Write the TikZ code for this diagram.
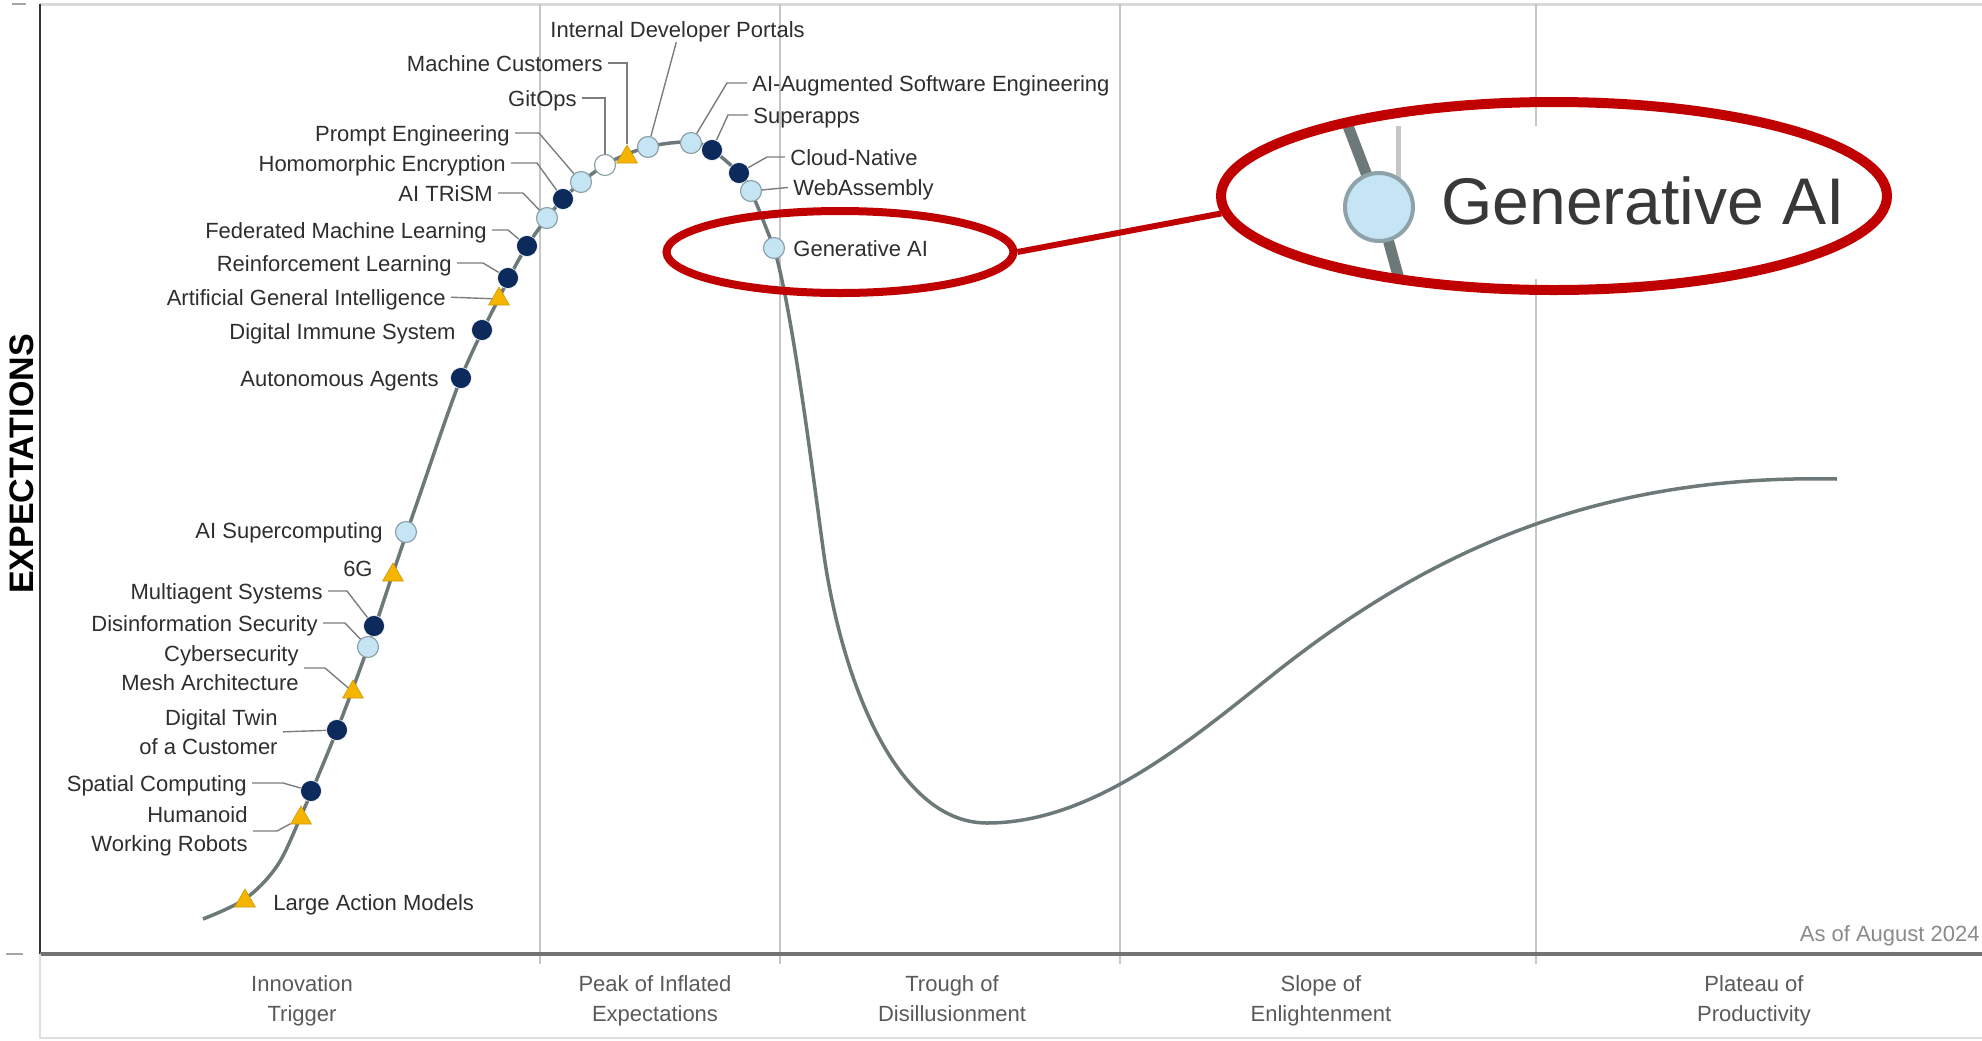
\documentclass[tikz,border=0pt]{standalone}
\usepackage{fontspec}
\setmainfont{Liberation Sans}
\usetikzlibrary{shapes.geometric}

\definecolor{navy}{HTML}{0C2A5B}
\definecolor{ltblue}{HTML}{C6E5F4}
\definecolor{dotedge}{HTML}{8EA2AA}
\definecolor{gold}{HTML}{F4B400}
\definecolor{curvegray}{HTML}{6C7978}
\definecolor{gridgray}{HTML}{C6C6C6}
\definecolor{leadgray}{HTML}{7D7D7D}
\definecolor{labeltext}{HTML}{2E2E2E}
\definecolor{phasetext}{HTML}{5A5A5A}
\definecolor{notegray}{HTML}{8A8A8A}
\definecolor{hilite}{HTML}{C00000}

\tikzset{
  hypecurve/.style={draw=curvegray, line width=1.75pt},
  dkdot/.style={circle, fill=navy, draw=white, line width=.3pt, minimum size=10.5pt, inner sep=0},
  ltdot/.style={circle, fill=ltblue, draw=dotedge, line width=.6pt, minimum size=10.5pt, inner sep=0},
  wtdot/.style={circle, fill=white, draw=dotedge, line width=.6pt, minimum size=10.5pt, inner sep=0},
  tri/.style={regular polygon, regular polygon sides=3, fill=gold, draw=gold!85!black, line width=.3pt, minimum size=12pt, inner sep=0},
  lbl/.style={font=\fontsize{11}{14.5}\selectfont, text=labeltext, inner sep=0},
  lbl1/.style={lbl, text height=8pt, text depth=0pt},
  lead/.style={draw=leadgray, line width=.7pt, shorten <=2.5pt},
  phase/.style={font=\fontsize{11}{15}\selectfont, text=phasetext, align=center, inner sep=0, anchor=north},
  ring/.style={ellipse, draw=hilite, inner sep=0},
}

\begin{document}
\begin{tikzpicture}[x=0.5pt, y=-0.5pt]
	\useasboundingbox (0,0) rectangle (1982,1040);
	% frame and phase lines
		\draw[gray!30, line width=1.5pt] (40,4) -- (1982,4);
		\foreach \x in {540,780,1120,1536}{
			\draw[gridgray, line width=1pt] (\x,4) -- (\x,964);
			}
		\draw[black!80, line width=1pt] (40,4) -- (40,954);
		\draw[black!55, line width=2pt] (40,954) -- (1982,954);
		\draw[gray!25, line width=1pt] (40,954) -- (40,1038) -- (1982,1038);
		\draw[gray!70, line width=1pt] (6,954) -- (23,954);
		\draw[gray!70, line width=1pt] (12,4) -- (26,4);
	% axis texts
		\node[rotate=90, inner sep=0, font=\fontsize{17}{17}\selectfont\bfseries] (ylab) at (22,464) {EXPECTATIONS};
		\foreach \n/\x/\t in {it/302/Innovation\\Trigger, pk/655/Peak of Inflated\\Expectations,
			tr/952/Trough of\\Disillusionment, sl/1321/Slope of\\Enlightenment, pl/1754/Plateau of\\Productivity}{
			\node[phase] (ph\n) at (\x,975) {\t};
			}
		\node[anchor=east, inner sep=0, text=notegray, font=\fontsize{11}{11}\selectfont] (asof) at (1980,936) {As of August 2024};
	% hype curve
		\draw[hypecurve] plot[smooth, tension=.55] coordinates {(203,919) (245,899) (277,866) (301,816)
			(337,730) (368,647) (393,573) (418,500) (461,378) (499,298) (527,246) (563,199) (605,165)
			(648,147) (690,142) (712,150) (739,173) (751,191) (774,248)}
			.. controls (792,308) and (812,468) .. (823,548)
			.. controls (839,668) and (892,823) .. (987,823)
			.. controls (1090,823) and (1185,745) .. (1270,677)
			.. controls (1430,549) and (1600,474) .. (1837,479);
	% markers
		\foreach \n/\s/\x/\y in {LAM/tri/245/901, HWR/tri/301/818, SC/dkdot/311/791, DT/dkdot/337/730,
			CMA/tri/353/692, DS/ltdot/368/647, MS/dkdot/374/626, G6/tri/393/575, AIS/ltdot/406/532,
			AA/dkdot/461/378, DIS/dkdot/482/330, AGI/tri/499/299, RL/dkdot/508/278, FML/dkdot/527/246,
			TRI/ltdot/547/218, HE/dkdot/563/199, PE/ltdot/581/182, GIT/wtdot/605/165, MC/tri/627/157,
			IDP/ltdot/648/147, AAS/ltdot/691/143, SUP/dkdot/712/150, CN/dkdot/739/173, WA/ltdot/751/191,
			GAI/ltdot/774/248}{
			\node[\s] (m\n) at (\x,\y) {};
			}
	% labels
		\foreach \n/\x/\y/\t in {MC/603/63/Machine Customers, GIT/577/98/GitOps, PE/510/133/Prompt Engineering,
			HE/506/163/Homomorphic Encryption, TRI/493/193/AI TRiSM, FML/487/230/Federated Machine Learning,
			RL/452/263/Reinforcement Learning, AGI/446/297/Artificial General Intelligence,
			DIS/456/331/Digital Immune System, AA/439/378/Autonomous Agents, AIS/383/530/AI Supercomputing,
			G6/373/568/6G, MS/323/591/Multiagent Systems, DS/318/623/Disinformation Security,
			SC/247/783/Spatial Computing}{
			\node[lbl1, anchor=east] (l\n) at (\x,\y) {\t};
			}
		\node[lbl, anchor=east, align=right] (lCMA) at (299,668) {Cybersecurity\\Mesh Architecture};
		\node[lbl, anchor=east, align=right] (lDT) at (278,732) {Digital Twin\\of a Customer};
		\node[lbl, anchor=east, align=right] (lHWR) at (248,831) {Humanoid\\Working Robots};
		\foreach \n/\x/\y/\t in {IDP/550/29/Internal Developer Portals, AAS/752/83/AI-Augmented Software Engineering,
			SUP/753/115/Superapps, CN/790/157/Cloud-Native, WA/793/187/WebAssembly,
			GAI/793/248/Generative AI, LAM/273/902/Large Action Models}{
			\node[lbl1, anchor=west] (l\n) at (\x,\y) {\t};
			}
	% leader lines
		\draw[lead] (lIDP.south) -- (mIDP);
		\draw[lead] (lMC.east) -| (mMC);
		\draw[lead] (lGIT.east) -| (mGIT);
		\draw[lead] (lPE.east) -- ++(29,0) -- (mPE);
		\draw[lead] (lHE.east) -- ++(31,0) -- (mHE);
		\draw[lead] (lTRI.east) -- ++(30,0) -- (mTRI);
		\draw[lead] (lFML.east) -- ++(21,0) -- (mFML);
		\draw[lead] (lRL.east) -- ++(31,0) -- (mRL);
		\draw[lead] (lAGI.east) -- (mAGI);
		\draw[lead] (lMS.east) -- ++(24,0) -- (mMS);
		\draw[lead] (lDS.east) -- ++(27,0) -- (mDS);
		\draw[lead] (lCMA.east) -- ++(26,0) -- (mCMA);
		\draw[lead] (lDT.east) -- (mDT);
		\draw[lead] (lSC.east) -- ++(36,0) -- (mSC);
		\draw[lead] (lHWR.east) -- ++(29,0) -- (mHWR);
		\draw[lead] (lAAS.west) -- ++(-25,0) -- (mAAS);
		\draw[lead] (lSUP.west) -- ++(-25,0) -- (mSUP);
		\draw[lead] (lCN.west) -- ++(-23,0) -- (mCN);
		\draw[lead] (lWA.west) -- (mWA);
	% zoomed view
		\fill[white] (1338,126) rectangle (1862,279);
		\coordinate (zc) at (1379,207);
		\coordinate (ztop) at (1348,126);
		\coordinate (zbot) at (1399,279);
		\draw[gridgray, line width=2.5pt] (1398,126) -- (1398,185);
		\draw[curvegray, line width=5.5pt] (ztop) -- (zc) -- (zbot);
		\node[circle, fill=ltblue, draw=dotedge, line width=2pt, minimum size=34pt, inner sep=0] (zdot) at (zc) {};
		\node[anchor=west, inner sep=0, text=black!78, font=\fontsize{33}{33}\selectfont] (ztext) at (1441,201) {Generative AI};
	% highlight
		\node[ring, line width=4pt, minimum width=173.5pt, minimum height=41pt] (gring) at (840,252) {};
		\node[ring, line width=5pt, minimum width=333pt, minimum height=94pt] (zring) at (1554,196) {};
		\draw[hilite, line width=3pt] (gring.east) -- (zring.183);
\end{tikzpicture}
\end{document}
